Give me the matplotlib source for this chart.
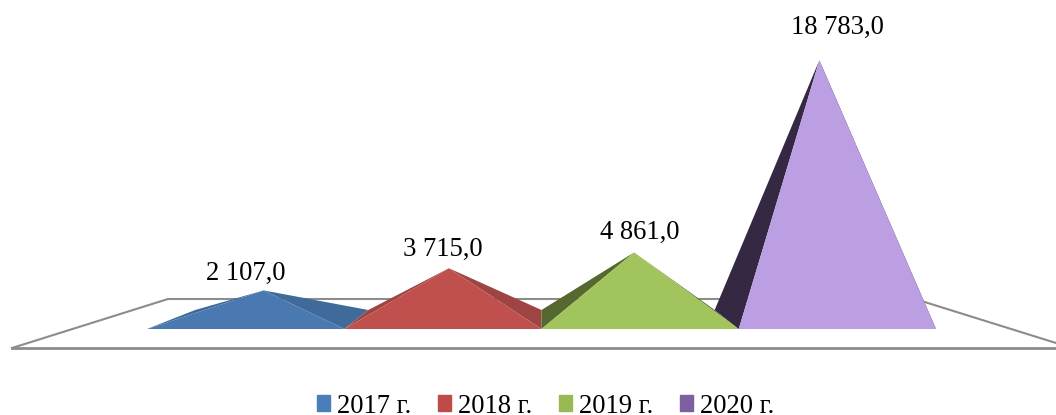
import matplotlib
matplotlib.use('Agg')
import matplotlib.pyplot as plt
from matplotlib.patches import Patch

years = ['2017 г.', '2018 г.', '2019 г.', '2020 г.']
values = [2107.0, 3715.0, 4861.0, 18783.0]
labels = ['2 107,0', '3 715,0', '4 861,0', '18 783,0']

front_colors = ['#4A78B0', '#C0504D', '#A2C45C', '#BB9FE2']
side_colors = ['#3F6A9A', '#9E4442', '#55682F', '#342843']
legend_colors = ['#4A7EBB', '#BE4B48', '#98B954', '#7D60A0']

# pixel geometry of the fake 3d scene
base_y = 329
back_y = 310
slot_w = 197.25
left_x = 147
mid_x = 541.5
back_k = 0.878
px_per_unit = 0.0138
label_per_unit = 0.01475

plt.rcParams['font.family'] = ['Liberation Serif', 'DejaVu Serif']


def project(x, depth):
    # depth 0 is the front of the bar, 1 is the back
    k = 1 - (1 - back_k) * depth
    return mid_x + (x - mid_x) * k, base_y + (back_y - base_y) * depth


fig = plt.figure(figsize=(10.56, 4.15), dpi=100)
ax = fig.add_axes([0, 0, 1, 1])
ax.set_xlim(0, 1056)
ax.set_ylim(415, 0)
ax.axis('off')

# floor
ax.plot([1056, 915, 168, 12], [343, 299, 299, 348], color='#8c8c8c', lw=1.5,
        solid_joinstyle='miter', zorder=1)
ax.plot([12, 1056], [348, 348], color='#8c8c8c', lw=2.0, zorder=1)

for i in range(len(values)):
    x0 = left_x + i * slot_w
    x1 = x0 + slot_w
    tip_x, tip_y = project((x0 + x1) / 2, 0.5)
    tip_y -= values[i] * px_per_unit
    bl = project(x0, 1)
    br = project(x1, 1)
    z = 2 + i * 2
    ax.fill([x0, bl[0], tip_x], [base_y, bl[1], tip_y], color=side_colors[i], lw=0, zorder=z)
    ax.fill([x1, br[0], tip_x], [base_y, br[1], tip_y], color=side_colors[i], lw=0, zorder=z)
    ax.fill([x0, x1, tip_x], [base_y, base_y, tip_y], color=front_colors[i], lw=0, zorder=z + 1)
    ax.text((x0 + x1) / 2, base_y - 25 - values[i] * label_per_unit, labels[i], fontsize=19.2,
            ha='center', va='center', color='black')

handles = [Patch(color=c, label=y) for c, y in zip(legend_colors, years)]
ax.legend(handles=handles, ncol=4, frameon=False, fontsize=19.2, loc='center',
          bbox_to_anchor=(545.5 / 1056, 1 - 406 / 415), handlelength=0.5, handleheight=0.5,
          handletextpad=0.25, columnspacing=1.0, borderpad=0, borderaxespad=0)

fig.savefig('out.png', dpi=100)
